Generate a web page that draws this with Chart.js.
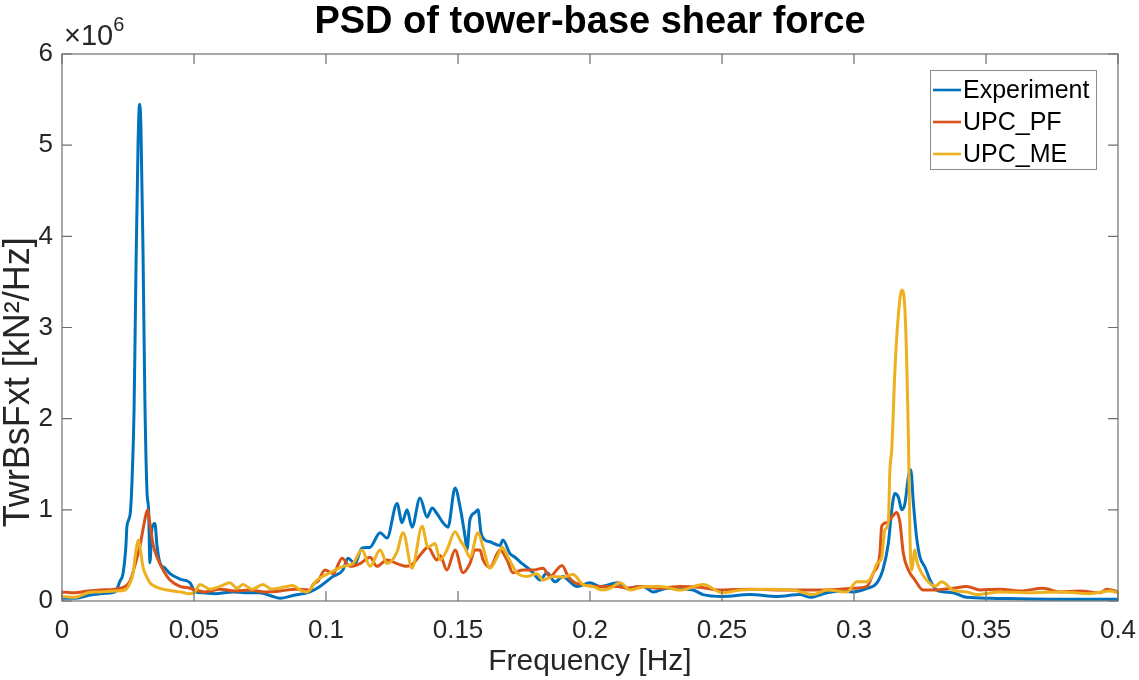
<!DOCTYPE html>
<html>
<head>
<meta charset="utf-8">
<script src="https://cdn.jsdelivr.net/npm/chart.js@4.4.1/dist/chart.umd.min.js"></script>
<style>
html,body{margin:0;padding:0;background:#fff;}
canvas{display:block;}
</style>
</head>
<body>
<canvas id="c" width="1139" height="680"></canvas>
<script>
// PSD values in units of 1e6 kN^2/Hz, frequency in Hz
const seriesLabels = ['Experiment', 'UPC_PF', 'UPC_ME'];
const seriesColors = ['#0072BD', '#D95319', '#EDB120'];

const freqExp = [0,0.0049,0.0098,0.0144,0.0201,0.0220,0.0231,0.0242,0.0246,0.0258,0.0265,0.0273,0.0280,0.0288,0.0294,0.0299,0.0307,0.0314,0.0322,0.0328,0.0333,0.0341,0.0352,0.0360,0.0371,0.0390,0.0409,0.0447,0.0485,0.0504,0.0534,0.0580,0.0648,0.0693,0.0750,0.0788,0.0826,0.0875,0.0939,0.0977,0.1027,0.1064,0.1083,0.1110,0.1136,0.1167,0.1205,0.1231,0.1269,0.1288,0.1307,0.1326,0.1356,0.1383,0.1402,0.1420,0.1443,0.1462,0.1489,0.1508,0.1527,0.1534,0.1545,0.1564,0.1576,0.1587,0.1602,0.1621,0.1659,0.1670,0.1697,0.1716,0.1735,0.1761,0.1784,0.1811,0.1837,0.1867,0.1898,0.1924,0.1951,0.2000,0.2038,0.2106,0.2140,0.2201,0.2239,0.2292,0.2390,0.2428,0.2504,0.2606,0.2708,0.2795,0.2833,0.2898,0.2947,0.2996,0.3049,0.3087,0.3110,0.3130,0.3143,0.3155,0.3168,0.3181,0.3193,0.3206,0.3215,0.3225,0.3237,0.3250,0.3269,0.3288,0.3313,0.3375,0.3427,0.3515,0.3742,0.4];
const psdExp = [0.03,0.03,0.06,0.08,0.10,0.22,0.30,0.60,0.82,0.95,1.30,2.10,3.60,5.00,5.45,5.20,3.80,2.20,1.20,1.00,0.42,0.80,0.85,0.60,0.42,0.36,0.30,0.24,0.20,0.10,0.09,0.08,0.10,0.09,0.09,0.06,0.03,0.06,0.10,0.16,0.27,0.34,0.47,0.41,0.58,0.59,0.75,0.69,1.07,0.86,1.00,0.81,1.13,0.92,1.02,0.96,0.86,0.81,1.24,1.03,0.70,0.56,0.89,0.97,1.00,0.75,0.67,0.65,0.61,0.67,0.52,0.48,0.43,0.37,0.31,0.23,0.31,0.21,0.27,0.21,0.16,0.20,0.16,0.20,0.14,0.16,0.10,0.14,0.12,0.07,0.05,0.07,0.05,0.07,0.04,0.09,0.11,0.10,0.14,0.20,0.35,0.63,1.00,1.18,1.14,1.00,1.07,1.36,1.44,1.07,0.70,0.48,0.37,0.23,0.12,0.09,0.04,0.03,0.02,0.02];

const freqPF = [0,0.0049,0.0098,0.0144,0.0201,0.0239,0.0258,0.0277,0.0295,0.0311,0.0324,0.0333,0.0345,0.0360,0.0383,0.0409,0.0447,0.0485,0.0504,0.0542,0.0598,0.0655,0.0712,0.0769,0.0826,0.0883,0.0939,0.0951,0.0970,0.0996,0.1027,0.1061,0.1091,0.1129,0.1167,0.1193,0.1231,0.1269,0.1307,0.1330,0.1364,0.1386,0.1420,0.1432,0.1458,0.1489,0.1519,0.1545,0.1564,0.1583,0.1595,0.1621,0.1659,0.1686,0.1708,0.1746,0.1784,0.1822,0.1848,0.1894,0.1917,0.1943,0.1973,0.2027,0.2102,0.2144,0.2189,0.2265,0.2341,0.2417,0.2492,0.2606,0.2720,0.2833,0.2947,0.2996,0.3049,0.3072,0.3098,0.3105,0.3124,0.3143,0.3162,0.3174,0.3187,0.3206,0.3231,0.3262,0.3299,0.3375,0.3427,0.3477,0.3553,0.3629,0.3716,0.3780,0.3856,0.3932,0.3958,0.4];
const psdPF = [0.10,0.09,0.11,0.12,0.13,0.16,0.22,0.40,0.60,0.85,1.00,0.85,0.62,0.48,0.34,0.23,0.16,0.14,0.12,0.10,0.13,0.11,0.12,0.10,0.11,0.13,0.12,0.18,0.22,0.34,0.30,0.47,0.38,0.41,0.48,0.38,0.45,0.41,0.38,0.41,0.53,0.59,0.45,0.50,0.34,0.56,0.31,0.41,0.56,0.56,0.45,0.37,0.56,0.45,0.31,0.34,0.34,0.36,0.27,0.39,0.27,0.20,0.18,0.16,0.16,0.14,0.16,0.14,0.16,0.15,0.12,0.13,0.12,0.12,0.13,0.14,0.16,0.30,0.52,0.82,0.86,0.92,0.97,0.86,0.52,0.34,0.23,0.12,0.12,0.14,0.16,0.12,0.13,0.11,0.14,0.10,0.11,0.09,0.13,0.10];

const freqME = [0,0.0049,0.0098,0.0144,0.0201,0.0239,0.0258,0.0269,0.0280,0.0289,0.0295,0.0307,0.0322,0.0333,0.0360,0.0398,0.0447,0.0485,0.0504,0.0523,0.0561,0.0598,0.0636,0.0663,0.0686,0.0720,0.0761,0.0795,0.0837,0.0875,0.0902,0.0928,0.0966,0.1015,0.1064,0.1102,0.1136,0.1167,0.1205,0.1231,0.1269,0.1292,0.1326,0.1364,0.1386,0.1413,0.1432,0.1458,0.1489,0.1508,0.1527,0.1545,0.1576,0.1595,0.1621,0.1648,0.1667,0.1686,0.1723,0.1761,0.1799,0.1822,0.1860,0.1898,0.1936,0.1973,0.2011,0.2045,0.2076,0.2114,0.2152,0.2208,0.2265,0.2341,0.2428,0.2504,0.2568,0.2670,0.2769,0.2845,0.2898,0.2973,0.3011,0.3049,0.3072,0.3087,0.3105,0.3117,0.3130,0.3136,0.3143,0.3155,0.3167,0.3181,0.3193,0.3206,0.3212,0.3218,0.3231,0.3237,0.3250,0.3275,0.3307,0.3332,0.3375,0.3427,0.3465,0.3553,0.3667,0.3780,0.3894,0.3970,0.4];
const psdME = [0.05,0.04,0.09,0.10,0.11,0.12,0.20,0.30,0.55,0.67,0.60,0.37,0.26,0.20,0.15,0.12,0.10,0.08,0.10,0.18,0.13,0.16,0.20,0.14,0.18,0.13,0.18,0.13,0.15,0.17,0.12,0.10,0.23,0.31,0.38,0.41,0.56,0.38,0.56,0.41,0.54,0.75,0.36,0.82,0.59,0.63,0.45,0.56,0.76,0.67,0.58,0.48,0.75,0.59,0.36,0.48,0.59,0.50,0.31,0.27,0.30,0.23,0.27,0.26,0.29,0.18,0.16,0.12,0.14,0.20,0.12,0.16,0.16,0.12,0.18,0.09,0.12,0.13,0.12,0.07,0.12,0.10,0.21,0.21,0.30,0.41,0.48,0.78,0.86,1.44,1.66,2.53,3.10,3.41,3.19,1.80,0.70,0.34,0.56,0.45,0.34,0.23,0.16,0.21,0.12,0.10,0.07,0.10,0.09,0.10,0.08,0.11,0.09];

const xTickLabels = ['0','0.05','0.1','0.15','0.2','0.25','0.3','0.35','0.4'];
const yTickLabels = ['0','1','2','3','4','5','6'];
const chartTitle = 'PSD of tower-base shear force';
const yAxisTitle = 'TwrBsFxt [kN\u00b2/Hz]';

const FONT = "'Liberation Sans', Arial, Helvetica, sans-serif";
const toPts = (fs, vs) => fs.map((f, i) => ({x: f, y: vs[i]}));
const freqs = [freqExp, freqPF, freqME];
const psds = [psdExp, psdPF, psdME];

const datasets = seriesLabels.map((lab, i) => ({
  label: lab,
  data: toPts(freqs[i], psds[i]),
  borderColor: seriesColors[i],
  backgroundColor: seriesColors[i],
  borderWidth: 3,
  pointRadius: 0,
  cubicInterpolationMode: 'monotone',
  fill: false,
  order: 3 - i
}));

const framePlugin = {
  id: 'frame',
  afterDatasetsDraw(chart) {
    const ctx = chart.ctx;
    const {left, right, top, bottom} = chart.chartArea;
    const xs = chart.scales.x, ys = chart.scales.y;
    ctx.save();
    ctx.strokeStyle = '#6e6e6e';
    ctx.lineWidth = 1.2;
    ctx.strokeRect(left, top, right - left, bottom - top);
    ctx.beginPath();
    xs.ticks.forEach(t => {
      const p = xs.getPixelForValue(t.value);
      ctx.moveTo(p, bottom); ctx.lineTo(p, bottom - 10);
      ctx.moveTo(p, top); ctx.lineTo(p, top + 10);
    });
    ys.ticks.forEach(t => {
      const p = ys.getPixelForValue(t.value);
      ctx.moveTo(left, p); ctx.lineTo(left + 10, p);
      ctx.moveTo(right, p); ctx.lineTo(right - 10, p);
    });
    ctx.stroke();
    // chart title, centred over the axes
    ctx.fillStyle = '#000';
    ctx.textAlign = 'center';
    ctx.textBaseline = 'middle';
    ctx.font = 'bold 38px ' + FONT;
    ctx.fillText(chartTitle, (left + right) / 2, 23);
    // exponent label
    ctx.fillStyle = '#262626';
    ctx.textBaseline = 'alphabetic';
    ctx.textAlign = 'left';
    ctx.font = '29px ' + FONT;
    ctx.fillText('\u00d710', left + 2, top - 9);
    const w = ctx.measureText('\u00d710').width;
    ctx.font = '20px ' + FONT;
    ctx.fillText('6', left + 2 + w, top - 23);
    // y axis title (rotated)
    ctx.save();
    ctx.translate(19, ys.getPixelForValue(2.4));
    ctx.rotate(-Math.PI / 2);
    ctx.font = '36px ' + FONT;
    ctx.textBaseline = 'middle';
    ctx.textAlign = 'center';
    ctx.fillStyle = '#262626';
    ctx.fillText(yAxisTitle, 0, 0);
    ctx.restore();
    // legend
    const bw = 166, bh = 99;
    const bx = right - 22 - bw, by = top + 16;
    ctx.fillStyle = '#ffffff';
    ctx.fillRect(bx, by, bw, bh);
    ctx.strokeStyle = '#8a8a8a';
    ctx.lineWidth = 1;
    ctx.strokeRect(bx + 0.5, by + 0.5, bw, bh);
    ctx.font = '25px ' + FONT;
    ctx.textBaseline = 'middle';
    chart.data.datasets.forEach((ds, i) => {
      const cy = by + 20 + i * 32;
      ctx.strokeStyle = ds.borderColor;
      ctx.lineWidth = 2.6;
      ctx.beginPath();
      ctx.moveTo(bx + 3, cy); ctx.lineTo(bx + 31, cy);
      ctx.stroke();
      ctx.fillStyle = '#000';
      ctx.fillText(ds.label, bx + 33, cy + 1);
    });
    ctx.restore();
  }
};

new Chart(document.getElementById('c'), {
  type: 'line',
  data: {datasets},
  options: {
    responsive: false,
    animation: false,
    devicePixelRatio: 1,
    layout: {padding: {left: 0, right: 21, top: 54, bottom: 0}},
    plugins: {
      legend: {display: false},
      tooltip: {enabled: false},
      title: {display: false}
    },
    scales: {
      x: {
        type: 'linear', min: 0, max: 0.4,
        grid: {display: false, drawTicks: false},
        border: {display: false},
        ticks: {
          stepSize: 0.05, padding: 14, color: '#262626', maxRotation: 0,
          font: {family: FONT, size: 26},
          callback: (v, i) => xTickLabels[i]
        },
        title: {
          display: true, text: 'Frequency [Hz]', color: '#262626',
          font: {family: FONT, size: 30}, padding: {top: 0, bottom: 0}
        },
        afterFit: s => { s.height = 79; s.paddingLeft = 0; s.paddingRight = 0; }
      },
      y: {
        type: 'linear', min: 0, max: 6,
        grid: {display: false, drawTicks: false},
        border: {display: false},
        ticks: {
          stepSize: 1, padding: 9, color: '#262626',
          font: {family: FONT, size: 26},
          callback: (v, i) => yTickLabels[i]
        },
        title: {display: false},
        afterFit: s => { s.width = 62; s.paddingTop = 0; s.paddingBottom = 0; }
      }
    }
  },
  plugins: [framePlugin]
});
</script>
</body>
</html>
